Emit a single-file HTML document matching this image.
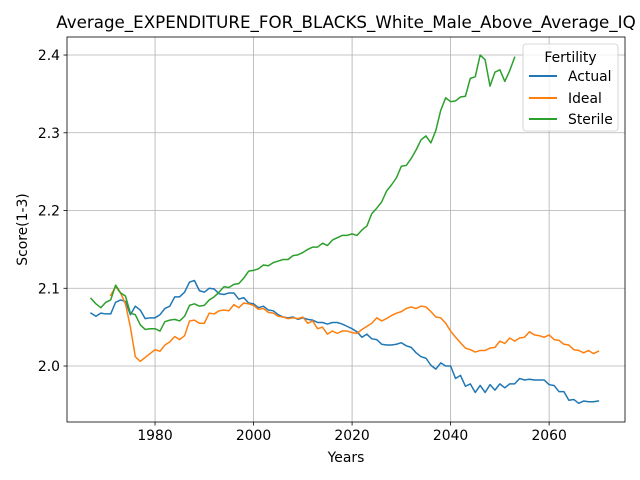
<!DOCTYPE html>
<html><head><meta charset="utf-8"><style>
body{margin:0;background:#fff;}
svg{display:block;font-family:"DejaVu Sans","Liberation Sans",sans-serif;}
</style></head><body>
<svg id="chart" width="640" height="480" viewBox="0 0 640 480" xmlns="http://www.w3.org/2000/svg">
<text x="346" y="28" font-size="16.7" text-anchor="middle">Average_EXPENDITURE_FOR_BLACKS_White_Male_Above_Average_IQ</text>
<g id="grid"></g>
<g id="series"></g>
<rect x="67" y="37" width="558" height="385" fill="none" stroke="#000" stroke-width="0.8"/>
<g id="ticks"></g>
<text x="346" y="462" font-size="13.9" text-anchor="middle">Years</text>
<text transform="translate(27,229.5) rotate(-90)" font-size="13.9" text-anchor="middle">Score(1-3)</text>
<g>
<rect x="523" y="44" width="95" height="87" rx="3" fill="#fff" fill-opacity="0.8" stroke="#ccc" stroke-width="0.8"/>
<text x="570.5" y="62" font-size="13.9" text-anchor="middle">Fertility</text>
<line x1="529" y1="76" x2="557" y2="76" stroke="#1f77b4" stroke-width="2"/>
<text x="568" y="81" font-size="13.9">Actual</text>
<line x1="529" y1="98" x2="557" y2="98" stroke="#ff7f0e" stroke-width="2"/>
<text x="568" y="103" font-size="13.9">Ideal</text>
<line x1="529" y1="119" x2="557" y2="119" stroke="#2ca02c" stroke-width="2"/>
<text x="568" y="124" font-size="13.9">Sterile</text>
</g>
</svg>
<script>
const startYear = 1967;
const actual = [2.068,2.064,2.068,2.067,2.067,2.082,2.085,2.083,2.066,2.077,2.072,2.061,2.062,2.062,2.066,2.074,2.077,2.089,2.089,2.095,2.108,2.110,2.097,2.095,2.100,2.099,2.093,2.092,2.094,2.094,2.086,2.088,2.081,
2.080,2.075,2.077,2.072,2.071,2.066,2.063,2.062,2.063,2.060,2.062,2.060,2.059,2.056,2.056,2.054,2.056,2.056,2.054,2.051,
2.048,2.044,2.037,2.041,2.035,2.034,2.028,2.027,2.027,2.028,2.030,2.026,2.024,2.017,2.012,2.010,2.001,1.996,2.004,2.000,2.000,
1.984,1.988,1.974,1.977,1.966,1.975,1.966,1.976,1.969,1.977,1.972,1.977,1.977,1.984,1.982,1.983,1.982,1.982,1.982,1.976,1.975,1.967,1.967,1.956,1.957,1.952,1.955,1.954,1.954,1.955];
const ideal = [null,null,null,null,2.091,2.102,2.094,2.080,2.050,2.012,2.006,2.011,2.016,2.021,2.019,2.027,2.031,2.038,2.034,2.039,2.058,2.059,2.055,2.055,2.068,2.067,2.071,2.072,2.071,2.079,2.075,2.081,2.080,
2.078,2.073,2.074,2.069,2.068,2.064,2.063,2.061,2.062,2.061,2.063,2.055,2.058,2.048,2.050,2.041,2.045,2.042,2.045,2.045,
2.043,2.042,2.047,2.051,2.055,2.062,2.058,2.061,2.065,2.068,2.070,2.074,2.076,2.074,2.077,2.076,2.070,2.063,2.062,2.055,2.045,
2.037,2.030,2.023,2.021,2.018,2.020,2.020,2.023,2.024,2.032,2.029,2.036,2.032,2.036,2.037,2.044,2.040,2.039,2.037,2.040,2.034,2.033,2.028,2.027,2.021,2.020,2.017,2.020,2.016,2.019];
const sterile = [2.087,2.080,2.075,2.082,2.085,2.104,2.094,2.090,2.068,2.066,2.053,2.047,2.048,2.048,2.045,2.057,2.059,2.060,2.058,2.064,2.078,2.080,2.077,2.078,2.085,2.089,2.095,2.102,2.101,2.105,2.106,2.113,2.122,
2.123,2.125,2.130,2.129,2.133,2.135,2.137,2.137,2.142,2.143,2.146,2.150,2.153,2.153,2.158,2.155,2.162,2.165,2.168,2.168,
2.170,2.168,2.175,2.180,2.196,2.203,2.211,2.225,2.233,2.242,2.257,2.258,2.267,2.278,2.291,2.296,2.287,2.303,2.329,2.345,2.340,
2.341,2.346,2.347,2.370,2.372,2.400,2.394,2.360,2.378,2.381,2.366,2.380,2.397];
const xTicks = [1980,2000,2020,2040,2060];
const yTicks = [2.0,2.1,2.2,2.3,2.4];

const L=67,R=625,T=37,B=422;
const xMin=1962.13,xMax=2075.4,yMin=1.928,yMax=2.4232;
const xs=v=>L+(v-xMin)/(xMax-xMin)*(R-L);
const ys=v=>B-(v-yMin)/(yMax-yMin)*(B-T);
const NS='http://www.w3.org/2000/svg';
function mk(tag,attrs,parent){const e=document.createElementNS(NS,tag);for(const k in attrs)e.setAttribute(k,attrs[k]);parent.appendChild(e);return e;}
const grid=document.getElementById('grid'),ticks=document.getElementById('ticks'),ser=document.getElementById('series');
xTicks.forEach(t=>{const x=xs(t);
 const g=mk('line',{x1:x,x2:x,y1:T,y2:B,stroke:'#b0b0b0','stroke-width':0.8},grid);
 
 
 mk('line',{x1:x,x2:x,y1:B,y2:B+3.5,stroke:'#000','stroke-width':0.8},ticks);
 const tx=mk('text',{x:x,y:B+18,'font-size':13.9,'text-anchor':'middle'},ticks);
 
 
 tx.textContent=t;});
yTicks.forEach(t=>{const y=ys(t);
 const g=mk('line',{x1:L,x2:R,y1:y,y2:y,stroke:'#b0b0b0','stroke-width':0.8},grid);
 
 
 mk('line',{x1:L-3.5,x2:L,y1:y,y2:y,stroke:'#000','stroke-width':0.8},ticks);
 const tx=mk('text',{x:L-7,y:y+5,'font-size':13.9,'text-anchor':'end'},ticks);
 
 
 tx.textContent=t.toFixed(1);});
function draw(arr,color,name){let d='';let pen=false;
 arr.forEach((v,i)=>{if(v==null){pen=false;return;}d+=(pen?'L':'M')+xs(startYear+i).toFixed(2)+','+ys(v).toFixed(2);pen=true;});
 const p=mk('path',{d:d,fill:'none',stroke:color,'stroke-width':1.5,'stroke-linejoin':'round','stroke-linecap':'square'},ser);
 
 }
draw(actual,'#1f77b4','actual-line');
draw(ideal,'#ff7f0e','ideal-line');
draw(sterile,'#2ca02c','sterile-line');
</script>
</body></html>
